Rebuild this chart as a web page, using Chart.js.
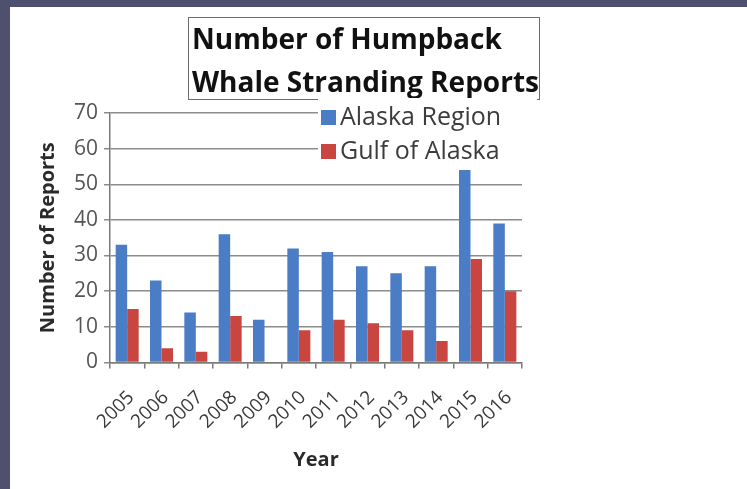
<!DOCTYPE html>
<html>
<head>
<meta charset="utf-8">
<script src="https://cdn.jsdelivr.net/npm/chart.js@4.4.1/dist/chart.umd.min.js"></script>
<style>
  html, body { margin: 0; padding: 0; background: #fff; }
  #frame {
    width: 737px;
    height: 482px;
    border-top: 7px solid #4e506e;
    border-left: 10px solid #4e506e;
    background: #fff;
  }
  canvas { display: block; }
</style>
</head>
<body>
<div id="frame"><canvas id="whales" width="737" height="482"></canvas></div>
<script>
// Datos
const years = ["2005", "2006", "2007", "2008", "2009", "2010", "2011", "2012", "2013", "2014", "2015", "2016"];
const alaskaRegion = [33, 23, 14, 36, 12, 32, 31, 27, 25, 27, 54, 39];
const gulfOfAlaska = [15, 4, 3, 13, 0, 9, 12, 11, 9, 6, 29, 20];
const seriesNames = ["Alaska Region", "Gulf of Alaska"];
const chartTitle = ["Number of Humpback", "Whale Stranding Reports"];
const yTicks = [0, 10, 20, 30, 40, 50, 60, 70];

const BLUE = "#4a7dc6";
const RED = "#c9453f";

Chart.defaults.font.family = "'Open Sans', sans-serif";

// Título dentro de un recuadro
const titleBox = {
  id: "titleBox",
  beforeDraw(chart) {
    const ctx = chart.ctx;
    ctx.save();
    ctx.strokeStyle = "#6d6d6d";
    ctx.lineWidth = 1;
    ctx.strokeRect(178.5, 10.5, 351, 82);
    ctx.fillStyle = "#111";
    ctx.font = "bold 28px 'Open Sans'";
    ctx.textBaseline = "alphabetic";
    chartTitle.forEach((line, i) => ctx.fillText(line, 182, 42 + i * 43));
    ctx.restore();
  },
};

// Leyenda flotante con fondo blanco sobre la cuadrícula
const floatingLegend = {
  id: "floatingLegend",
  beforeDatasetsDraw(chart) {
    const ctx = chart.ctx;
    ctx.save();
    ctx.fillStyle = "#fff";
    ctx.fillRect(308, 91, 219, 72);
    ctx.font = "25px 'Open Sans'";
    ctx.textBaseline = "alphabetic";
    chart.data.datasets.forEach((ds, i) => {
      const y = 103 + i * 34;
      ctx.fillStyle = ds.backgroundColor;
      ctx.fillRect(311, y, 15, 15);
      ctx.fillStyle = "#3c3c3c";
      ctx.fillText(ds.label, 330, y + 15);
    });
    ctx.restore();
  },
};

const ctx = document.querySelector("#whales").getContext("2d");
new Chart(ctx, {
  type: "bar",
  data: {
    labels: years,
    datasets: [
      {
        label: seriesNames[0],
        data: alaskaRegion,
        backgroundColor: BLUE,
        borderWidth: 0,
        categoryPercentage: 0.67,
        barPercentage: 1,
      },
      {
        label: seriesNames[1],
        data: gulfOfAlaska,
        backgroundColor: RED,
        borderWidth: 0,
        categoryPercentage: 0.67,
        barPercentage: 1,
      },
    ],
  },
  options: {
    responsive: false,
    animation: false,
    layout: { padding: { top: 106, right: 225, bottom: 0, left: 0 } },
    plugins: {
      legend: { display: false },
      title: { display: false },
      tooltip: { enabled: false },
    },
    scales: {
      x: {
        grid: {
          offset: true,
          drawOnChartArea: false,
          drawTicks: true,
          tickLength: 6,
          color: "#7a7a7a",
          lineWidth: 1.5,
        },
        border: { color: "#7a7a7a", width: 1.5 },
        ticks: {
          autoSkip: false,
          minRotation: 45,
          maxRotation: 45,
          padding: 18,
          labelOffset: 4,
          color: "#3a3a3a",
          font: { size: 19 },
        },
        title: {
          display: true,
          text: "Year",
          color: "#2a2a2a",
          font: { size: 20, weight: "bold" },
          padding: { top: 4, bottom: 17 },
        },
        afterFit(scale) {
          scale.height = 126.6;
        },
      },
      y: {
        min: 0,
        max: 70,
        afterBuildTicks(scale) {
          scale.ticks = yTicks.map((v) => ({ value: v }));
        },
        grid: {
          color: "#8c8c8c",
          lineWidth: 1.5,
          tickLength: 6,
        },
        border: { color: "#7a7a7a", width: 1.5 },
        ticks: {
          padding: 6,
          color: "#555",
          font: { size: 21 },
        },
        title: {
          display: true,
          text: "Number of Reports",
          color: "#2a2a2a",
          font: { size: 20, weight: "bold" },
          padding: { top: 26, bottom: 0 },
        },
        afterFit(scale) {
          scale.width = 100;
        },
      },
    },
  },
  plugins: [titleBox, floatingLegend],
});
</script>
</body>
</html>
